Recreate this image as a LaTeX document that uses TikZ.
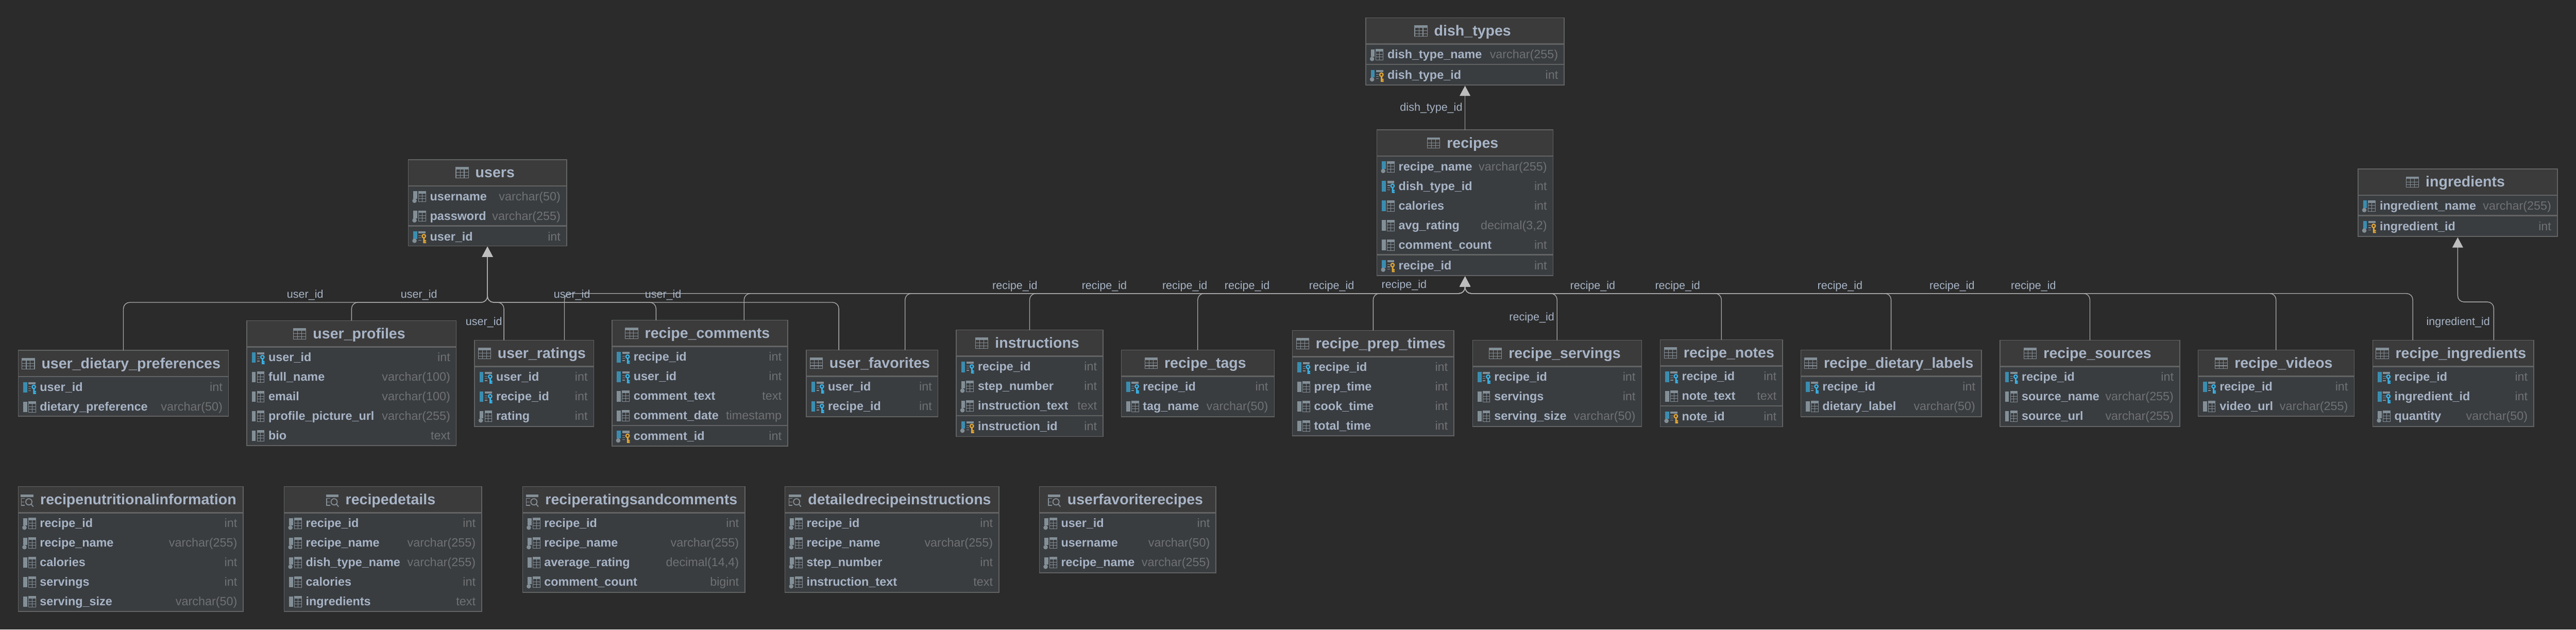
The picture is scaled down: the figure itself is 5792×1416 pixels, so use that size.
\documentclass[tikz,border=0pt]{standalone}
\usepackage{fontspec}
\setmainfont{Liberation Sans}
\usetikzlibrary{arrows.meta}

\definecolor{canvascolor}{HTML}{2B2B2B}
\definecolor{headcolor}{HTML}{3C3B3B}
\definecolor{bodycolor}{HTML}{3A3D40}
\definecolor{bordercolor}{HTML}{626363}
\definecolor{namecolor}{HTML}{A7B4C6}
\definecolor{typecolor}{HTML}{6F7173}
\definecolor{linkcolor}{HTML}{ABABAB}
\definecolor{tipcolor}{HTML}{BDBDBD}
\definecolor{icongrey}{HTML}{838F97}
\definecolor{iconblue}{HTML}{3A8DB0}
\definecolor{iconkeyf}{HTML}{38B2E6}
\definecolor{iconkeyp}{HTML}{E0A535}

\tikzset{
	tablebox/.style={draw=none, fill=bodycolor, inner sep=0pt, outer sep=0pt, anchor=north west},
	tableline/.style={draw=bordercolor, line width=0.5pt},
	rowsep/.style={draw=bordercolor, line width=0.8pt},
	tabletitle/.style={inner sep=0pt, anchor=base, text=namecolor, font=\fontsize{9.4pt}{11pt}\selectfont\bfseries},
	colname/.style={inner sep=0pt, anchor=base west, text=namecolor, font=\fontsize{7.7pt}{9pt}\selectfont\bfseries},
	coltype/.style={inner sep=0pt, anchor=base east, text=typecolor, font=\fontsize{7.7pt}{9pt}\selectfont},
	linklabel/.style={inner sep=0pt, anchor=base, text=namecolor, font=\fontsize{7.1pt}{9pt}\selectfont},
	reflink/.style={draw=linkcolor, line width=0.45pt, rounded corners=4pt, shorten >=0.5pt,
		-{Triangle[length=6.5pt,width=6.8pt,color=tipcolor]}}
}

% Spaltensymbole
\newcommand{\colgrid}{
	\fill[icongrey] (12,-12) rectangle (28,-7);
	\draw[icongrey, line width=0.3pt] (12,-12) rectangle (28,12) (12,-1) -- (28,-1) (12,5) -- (28,5) (20,-7) -- (20,12);
}
\newcommand{\colkey}[1]{
	\fill[icongrey] (12,-12) rectangle (28,-7);
	\draw[icongrey, line width=0.4pt] (12,-2) -- (18,-2) (12,3) -- (18,3) (12,8) -- (18,8);
	\draw[#1, line width=0.75pt] (24,-1) circle (3.8);
	\fill[#1] (22.5,3) rectangle (26,15) (26,8) rectangle (29,11) (26,12) rectangle (29,15);
}
\newcommand{\coldot}{\fill[icongrey] (3,9.5) circle (5);}
\newcommand{\iconc}{\fill[icongrey] (0,-12) rectangle (9,12); \colgrid}
\newcommand{\iconb}{\fill[iconblue] (0,-12) rectangle (9,12); \colgrid}
\newcommand{\iconn}{\fill[icongrey] (0,-12) rectangle (9,5); \coldot \colgrid}
\newcommand{\iconbn}{\fill[iconblue] (0,-12) rectangle (9,5); \coldot \colgrid}
\newcommand{\iconf}{\fill[iconblue] (0,-12) rectangle (9,12); \colkey{iconkeyf}}
\newcommand{\iconp}{\fill[iconblue] (0,-12) rectangle (9,5); \coldot \colkey{iconkeyp}}

% Titelsymbole
\newcommand{\titletbl}{
	\fill[icongrey] (-43,-23) rectangle (-15,-18);
	\draw[icongrey, line width=0.35pt] (-43,-23) rectangle (-15,1) (-43,-11.5) -- (-15,-11.5) (-43,-5) -- (-15,-5)
		(-33.5,-18) -- (-33.5,1) (-24.5,-18) -- (-24.5,1);
}
\newcommand{\titleview}{
	\fill[icongrey] (-43,-23) rectangle (-15,-17);
	\draw[icongrey, line width=0.45pt] (-34,-14) -- (-42,-14) -- (-42,2) -- (-34,2) (-42,-6) -- (-35,-6);
	\draw[icongrey, line width=0.6pt] (-25,-6) circle (7) (-20,-1) -- (-15,5);
}

\def\kindp{p}
% name, links, oben, rechts, unten, titel, titelsymbol, zeilen
\newcommand{\dbtable}[8]{
	\node[tablebox, minimum width={(#4-#2)*0.01cm}, minimum height={(#5-#3)*0.01cm}] (#1) at (#2,#3) {};
	\fill[headcolor] (#1.north west) rectangle ([shift={(0,59)}]#1.north east);
	\draw[rowsep] ([shift={(0,59)}]#1.north west) -- ([shift={(0,59)}]#1.north east);
	\node[tabletitle] (#1_title) at ({(#2+#4)/2+17},#3+40.5) {#6};
	\begin{scope}[shift={(#1_title.base west)}]
		#7
	\end{scope}
	\foreach \ckind/\cname/\ctype [count=\r from 0] in {#8} {
		\pgfmathsetmacro{\ry}{#3+83+44*\r}
		\ifx\ckind\kindp
			\pgfmathsetmacro{\ry}{\ry+2}
			\draw[rowsep] (#2,\ry-24) -- (#4,\ry-24);
		\fi
		\begin{scope}[shift={(#2+11,\ry)}]
			\csname icon\ckind\endcsname
		\end{scope}
		\node[colname] (#1_name\r) at (#2+48,\ry+9) {\cname};
		\node[coltype] (#1_type\r) at (#4-13,\ry+9) {\ctype};
	}
	\draw[tableline] (#1.north west) rectangle (#1.south east);
}

\begin{document}
\begin{tikzpicture}[x=0.01cm, y=-0.01cm]
	\useasboundingbox (0,0) rectangle (5792,1416);
	\fill[canvascolor] (0,0) rectangle (5792,1416);

	% Tabellen oben
	\dbtable{dish_types}{3071}{40}{3517}{191}{dish\_types}{\titletbl}{n/dish\_type\_name/varchar(255), p/dish\_type\_id/int}
	\dbtable{recipes}{3096}{292}{3492}{620}{recipes}{\titletbl}{bn/recipe\_name/varchar(255), f/dish\_type\_id/int, b/calories/int, c/avg\_rating/{decimal(3,2)}, c/comment\_count/int, p/recipe\_id/int}
	\dbtable{users}{918}{359}{1274}{553}{users}{\titletbl}{n/username/varchar(50), n/password/varchar(255), p/user\_id/int}
	\dbtable{ingredients}{5302}{380}{5750}{532}{ingredients}{\titletbl}{bn/ingredient\_name/varchar(255), p/ingredient\_id/int}

	% Tabellen mitte
	\dbtable{user_dietary_preferences}{41}{788}{514}{936}{user\_dietary\_preferences}{\titletbl}{f/user\_id/int, c/dietary\_preference/varchar(50)}
	\dbtable{user_profiles}{555}{721}{1026}{1002}{user\_profiles}{\titletbl}{f/user\_id/int, c/full\_name/varchar(100), c/email/varchar(100), c/profile\_picture\_url/varchar(255), c/bio/text}
	\dbtable{user_ratings}{1067}{765}{1335}{959}{user\_ratings}{\titletbl}{f/user\_id/int, f/recipe\_id/int, n/rating/int}
	\dbtable{recipe_comments}{1376}{720}{1771}{1003}{recipe\_comments}{\titletbl}{f/recipe\_id/int, f/user\_id/int, c/comment\_text/text, c/comment\_date/timestamp, p/comment\_id/int}
	\dbtable{user_favorites}{1813}{787}{2109}{937}{user\_favorites}{\titletbl}{f/user\_id/int, f/recipe\_id/int}
	\dbtable{instructions}{2150}{742}{2480}{982}{instructions}{\titletbl}{f/recipe\_id/int, n/step\_number/int, n/instruction\_text/text, p/instruction\_id/int}
	\dbtable{recipe_tags}{2521}{787}{2865}{937}{recipe\_tags}{\titletbl}{f/recipe\_id/int, c/tag\_name/varchar(50)}
	\dbtable{recipe_prep_times}{2906}{743}{3269}{980}{recipe\_prep\_times}{\titletbl}{f/recipe\_id/int, c/prep\_time/int, c/cook\_time/int, c/total\_time/int}
	\dbtable{recipe_servings}{3311}{765}{3691}{959}{recipe\_servings}{\titletbl}{f/recipe\_id/int, c/servings/int, c/serving\_size/varchar(50)}
	\dbtable{recipe_notes}{3733}{764}{4008}{960}{recipe\_notes}{\titletbl}{f/recipe\_id/int, c/note\_text/text, p/note\_id/int}
	\dbtable{recipe_dietary_labels}{4049}{787}{4455}{937}{recipe\_dietary\_labels}{\titletbl}{f/recipe\_id/int, c/dietary\_label/varchar(50)}
	\dbtable{recipe_sources}{4497}{765}{4901}{959}{recipe\_sources}{\titletbl}{f/recipe\_id/int, c/source\_name/varchar(255), c/source\_url/varchar(255)}
	\dbtable{recipe_videos}{4942}{787}{5293}{936}{recipe\_videos}{\titletbl}{f/recipe\_id/int, c/video\_url/varchar(255)}
	\dbtable{recipe_ingredients}{5335}{765}{5697}{959}{recipe\_ingredients}{\titletbl}{f/recipe\_id/int, f/ingredient\_id/int, n/quantity/varchar(50)}

	% Views unten
	\dbtable{recipenutritionalinformation}{41}{1094}{547}{1375}{recipenutritionalinformation}{\titleview}{n/recipe\_id/int, n/recipe\_name/varchar(255), c/calories/int, c/servings/int, c/serving\_size/varchar(50)}
	\dbtable{recipedetails}{639}{1094}{1083}{1375}{recipedetails}{\titleview}{n/recipe\_id/int, n/recipe\_name/varchar(255), n/dish\_type\_name/varchar(255), c/calories/int, c/ingredients/text}
	\dbtable{reciperatingsandcomments}{1175}{1094}{1675}{1332}{reciperatingsandcomments}{\titleview}{n/recipe\_id/int, n/recipe\_name/varchar(255), c/average\_rating/{decimal(14,4)}, n/comment\_count/bigint}
	\dbtable{detailedrecipeinstructions}{1765}{1094}{2246}{1332}{detailedrecipeinstructions}{\titleview}{n/recipe\_id/int, n/recipe\_name/varchar(255), n/step\_number/int, n/instruction\_text/text}
	\dbtable{userfavoriterecipes}{2337}{1094}{2734}{1288}{userfavoriterecipes}{\titleview}{n/user\_id/int, n/username/varchar(50), n/recipe\_name/varchar(255)}

	% Sammelschienen und Andockpunkte
	\coordinate (bus_user) at (0,680);
	\coordinate (bus_recipe) at (0,660);
	\coordinate (bus_ingredient) at (0,679);
	\coordinate (ratings_user) at ([shift={(66,0)}]user_ratings.north west);
	\coordinate (ratings_recipe) at ([shift={(202,0)}]user_ratings.north west);
	\coordinate (comments_user) at ([shift={(99,0)}]recipe_comments.north west);
	\coordinate (comments_recipe) at ([shift={(297,0)}]recipe_comments.north west);
	\coordinate (favorites_user) at ([shift={(73,0)}]user_favorites.north west);
	\coordinate (favorites_recipe) at ([shift={(222,0)}]user_favorites.north west);
	\coordinate (ingredients_recipe) at ([shift={(90,0)}]recipe_ingredients.north west);
	\coordinate (ingredients_ingredient) at ([shift={(272,0)}]recipe_ingredients.north west);

	% Verbindungen
	\draw[reflink] (recipes.north) -- (dish_types.south);
	\foreach \src in {user_dietary_preferences.north, user_profiles.north, ratings_user, comments_user, favorites_user}
		\draw[reflink] (\src) |- (users.south |- bus_user) -- (users.south);
	\foreach \src in {ratings_recipe, comments_recipe, favorites_recipe, instructions.north, recipe_tags.north, recipe_prep_times.north, recipe_servings.north, recipe_notes.north, recipe_dietary_labels.north, recipe_sources.north, recipe_videos.north, ingredients_recipe}
		\draw[reflink] (\src) |- (recipes.south |- bus_recipe) -- (recipes.south);
	\draw[reflink] (ingredients_ingredient) |- (ingredients.south |- bus_ingredient) -- (ingredients.south);

	% Beschriftungen
	\node[linklabel] (dish_label) at (3218,250) {dish\_type\_id};
	\foreach \x [count=\i] in {686, 942, 1286, 1491}
		\node[linklabel] (user_label\i) at (\x,670) {user\_id};
	\node[linklabel] (user_label5) at (1088,731) {user\_id};
	\foreach \x [count=\i] in {2282, 2483, 2664, 2804, 2994, 3581, 3772, 4137, 4389, 4572}
		\node[linklabel] (recipe_label\i) at (\x,650) {recipe\_id};
	\node[linklabel] (recipe_label11) at (3157,648) {recipe\_id};
	\node[linklabel] (recipe_label12) at (3444,721) {recipe\_id};
	\node[linklabel] (ingredient_label) at (5527,732) {ingredient\_id};
\end{tikzpicture}
\end{document}
